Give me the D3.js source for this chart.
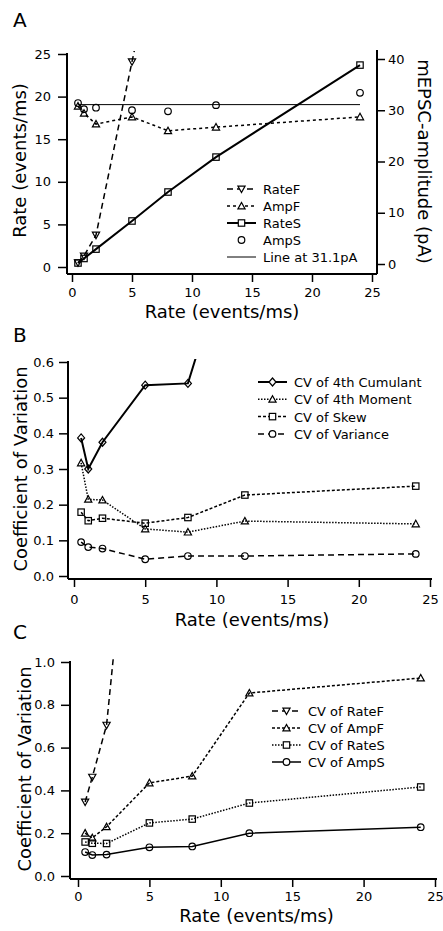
<!DOCTYPE html>
<html>
<head>
<meta charset="utf-8">
<script src="https://cdn.jsdelivr.net/npm/d3@7"></script>
<style>
  body { margin: 0; background: #fff; }
  text { font-family: "DejaVu Sans", sans-serif; fill: #000; }
</style>
</head>
<body>
<script>
// shared x values (events/ms)
const rates = [0.5, 1, 2, 5, 8, 12, 24];

// panel A
const rateFx = [0.5, 1, 2, 5, 8];
const rateF = [0.5, 1.3, 3.75, 24.1, 44];
const ampF = [30.8, 29.4, 27.3, 28.7, 26.0, 26.7, 28.7];
const rateS = [0.47, 1.0, 2.1, 5.4, 8.8, 12.9, 23.7];
const ampS = [31.4, 30.2, 30.5, 30.0, 29.8, 31.0, 33.4];
const lineLevel = 31.1;
const legendA = ["RateF", "AmpF", "RateS", "AmpS", "Line at 31.1pA"];

// panel B
const cumulantX = [0.5, 1, 2, 5, 8, 12];
const cvCumulant = [0.387, 0.30, 0.375, 0.535, 0.54, 1.06];
const cvMoment = [0.317, 0.215, 0.213, 0.132, 0.123, 0.154, 0.146];
const cvSkew = [0.179, 0.155, 0.162, 0.148, 0.164, 0.227, 0.252];
const cvVariance = [0.095, 0.081, 0.077, 0.047, 0.056, 0.056, 0.062];
const legendB = ["CV of 4th Cumulant", "CV of 4th Moment", "CV of Skew", "CV of Variance"];

// panel C
const cvRateFx = [0.5, 1, 2, 5];
const cvRateF = [0.346, 0.462, 0.705, 2.7];
const cvAmpF = [0.2, 0.178, 0.23, 0.435, 0.467, 0.855, 0.925];
const cvRateS = [0.159, 0.153, 0.152, 0.248, 0.266, 0.341, 0.416];
const cvAmpS = [0.112, 0.098, 0.1, 0.134, 0.138, 0.2, 0.228];
const legendC = ["CV of RateF", "CV of AmpF", "CV of RateS", "CV of AmpS"];

const xTicks = [0, 5, 10, 15, 20, 25];

let svg = d3.select("body").append("svg")
    .attr("width", 443)
    .attr("height", 931);

// marker shapes, all hollow so the line shows through
function marker(g, kind, cx, cy) {
    let s = 3.6;
    if (kind == "down") {
        g.append("path").attr("d", `M${cx - s},${cy - s * 0.8}L${cx + s},${cy - s * 0.8}L${cx},${cy + s}Z`);
    } else if (kind == "up") {
        g.append("path").attr("d", `M${cx - s},${cy + s * 0.8}L${cx + s},${cy + s * 0.8}L${cx},${cy - s}Z`);
    } else if (kind == "square") {
        g.append("rect").attr("x", cx - 3.2).attr("y", cy - 3.2).attr("width", 6.4).attr("height", 6.4);
    } else if (kind == "circle") {
        g.append("circle").attr("cx", cx).attr("cy", cy).attr("r", 3.3);
    } else if (kind == "diamond") {
        g.append("path").attr("d", `M${cx},${cy - 4}L${cx + 3.5},${cy}L${cx},${cy + 4}L${cx - 3.5},${cy}Z`);
    }
}

// one panel: axes, clipped series, legend
function panel(p) {
    let g = svg.append("g");
    let x = d3.scaleLinear().domain([0, 25]).range(p.xr);
    let y = d3.scaleLinear().domain(p.yd).range(p.yr);

    g.append("clipPath").attr("id", "clip" + p.id)
      .append("rect")
        .attr("x", p.left).attr("y", p.top)
        .attr("width", p.right - p.left).attr("height", p.bottom - p.top);

    // axis lines
    g.append("line").attr("x1", p.left).attr("x2", p.left).attr("y1", p.top + 2).attr("y2", p.bottom)
        .attr("stroke", "black").attr("stroke-width", 2);
    g.append("line").attr("x1", p.left).attr("x2", p.right).attr("y1", p.bottom).attr("y2", p.bottom)
        .attr("stroke", "black").attr("stroke-width", 2);

    let ax = g.append("g").attr("transform", `translate(0,${p.bottom})`)
        .call(d3.axisBottom(x).tickValues(xTicks).tickSize(8).tickPadding(p.xpad));
    let ay = g.append("g").attr("transform", `translate(${p.left},0)`)
        .call(d3.axisLeft(y).tickValues(p.yTicks).tickSize(9).tickPadding(p.ypad).tickFormat(p.yFormat));
    [ax, ay].forEach(a => {
        a.select(".domain").remove();
        a.selectAll("line").attr("stroke-width", 1.5);
        a.selectAll("text").style("font-size", "13px").style("font-family", "DejaVu Sans");
    });

    // axis titles
    g.append("text").attr("x", (p.xr[0] + p.xr[1]) / 2).attr("y", p.xTitleY)
        .attr("text-anchor", "middle").style("font-size", "18px").text("Rate (events/ms)");
    g.append("text")
        .attr("transform", `translate(${p.yTitleX},${(p.yr[0] + p.yr[1]) / 2}) rotate(-90)`)
        .attr("text-anchor", "middle").style("font-size", "18px").text(p.yTitle);

    // panel letter
    g.append("text").attr("x", 13).attr("y", p.letterY).style("font-size", "20px").text(p.letter);

    // series
    let plot = g.append("g").attr("clip-path", `url(#clip${p.id})`);
    let legend = g.append("g");
    p.series.forEach((s, i) => {
        let ys = s.axis == "right" ? p.y2 : y;
        let pts = s.xs.map((v, j) => [x(v), ys(s.ys[j])]);
        if (s.line) {
            plot.append("path")
                .attr("d", d3.line()(pts))
                .attr("fill", "none").attr("stroke", "black")
                .attr("stroke-width", s.width || 1.5)
                .attr("stroke-dasharray", s.dash || null);
        }
        let mg = plot.append("g").attr("fill", "none").attr("stroke", "black").attr("stroke-width", 1.2);
        if (s.marker) pts.forEach(d => marker(mg, s.marker, d[0], d[1]));

        // legend entry
        let ly = p.legY + i * p.legStep;
        if (s.line) {
            legend.append("line").attr("x1", p.legX).attr("x2", p.legX + 29).attr("y1", ly).attr("y2", ly)
                .attr("stroke", "black").attr("stroke-width", s.width || 1.5)
                .attr("stroke-dasharray", s.dash || null);
        }
        let lm = legend.append("g").attr("fill", s.line ? "white" : "none").attr("stroke", "black").attr("stroke-width", 1.2);
        if (s.marker) marker(lm, s.marker, p.legX + 14.5, ly);
        legend.append("text").attr("x", p.legX + 36).attr("y", ly + 5)
            .style("font-size", "13px").text(s.name);
    });
    return { g: g, x: x, y: y };
}

// panel A has a second axis for amplitude
let yA2 = d3.scaleLinear().domain([0, 40]).range([264, 59]);
let pA = panel({
    id: "A", letter: "A", letterY: 27,
    xr: [72, 372], yd: [0, 25], yr: [267, 54],
    left: 67, right: 377, top: 51, bottom: 274,
    yTicks: [0, 5, 10, 15, 20, 25], yFormat: d3.format("d"),
    xpad: 6, ypad: 7, xTitleY: 318, yTitleX: 26, yTitle: "Rate (events/ms)",
    y2: yA2,
    legX: 227, legY: 189, legStep: 17,
    series: [
        { name: legendA[0], xs: rateFx, ys: rateF, line: true, dash: "6,4", marker: "down" },
        { name: legendA[1], xs: rates, ys: ampF, line: true, dash: "3,3", marker: "up", axis: "right" },
        { name: legendA[2], xs: rates, ys: rateS, line: true, width: 2, marker: "square" },
        { name: legendA[3], xs: rates, ys: ampS, line: false, marker: "circle", axis: "right" },
        { name: legendA[4], xs: [0.5, 24], ys: [lineLevel, lineLevel], line: true, width: 1, axis: "right" }
    ]
});

// right hand axis of panel A
pA.g.append("line").attr("x1", 377).attr("x2", 377).attr("y1", 50).attr("y2", 274)
    .attr("stroke", "black").attr("stroke-width", 2);
let aR = pA.g.append("g").attr("transform", "translate(377,0)")
    .call(d3.axisRight(yA2).tickValues([0, 10, 20, 30, 40]).tickSize(8).tickPadding(3));
aR.select(".domain").remove();
aR.selectAll("line").attr("stroke-width", 1.5);
aR.selectAll("text").style("font-size", "13px").style("font-family", "DejaVu Sans");
pA.g.append("text")
    .attr("transform", `translate(418,${(264 + 59) / 2}) rotate(90)`)
    .attr("text-anchor", "middle").style("font-size", "18px").text("mEPSC-amplitude (pA)");

panel({
    id: "B", letter: "B", letterY: 342,
    xr: [74, 430], yd: [0, 0.6], yr: [576, 362],
    left: 68, right: 432, top: 359, bottom: 579,
    yTicks: [0, 0.1, 0.2, 0.3, 0.4, 0.5, 0.6], yFormat: d3.format(".1f"),
    xpad: 8, ypad: 5, xTitleY: 626, yTitleX: 27, yTitle: "Coefficient of Variation",
    legX: 258, legY: 382, legStep: 17.3,
    series: [
        { name: legendB[0], xs: cumulantX, ys: cvCumulant, line: true, width: 2, marker: "diamond" },
        { name: legendB[1], xs: rates, ys: cvMoment, line: true, dash: "1.5,1.5", marker: "up" },
        { name: legendB[2], xs: rates, ys: cvSkew, line: true, dash: "3,2", marker: "square" },
        { name: legendB[3], xs: rates, ys: cvVariance, line: true, dash: "6,4", marker: "circle" }
    ]
});

panel({
    id: "C", letter: "C", letterY: 639,
    xr: [78, 435], yd: [0, 1], yr: [876, 662],
    left: 70, right: 437, top: 659, bottom: 879,
    yTicks: [0, 0.2, 0.4, 0.6, 0.8, 1.0], yFormat: d3.format(".1f"),
    xpad: 5, ypad: 6, xTitleY: 922, yTitleX: 31, yTitle: "Coefficient of Variation",
    legX: 272, legY: 711, legStep: 17,
    series: [
        { name: legendC[0], xs: cvRateFx, ys: cvRateF, line: true, dash: "6,4", marker: "down" },
        { name: legendC[1], xs: rates, ys: cvAmpF, line: true, dash: "3,2", marker: "up" },
        { name: legendC[2], xs: rates, ys: cvRateS, line: true, dash: "1.5,1.5", marker: "square" },
        { name: legendC[3], xs: rates, ys: cvAmpS, line: true, marker: "circle" }
    ]
});
</script>
</body>
</html>
